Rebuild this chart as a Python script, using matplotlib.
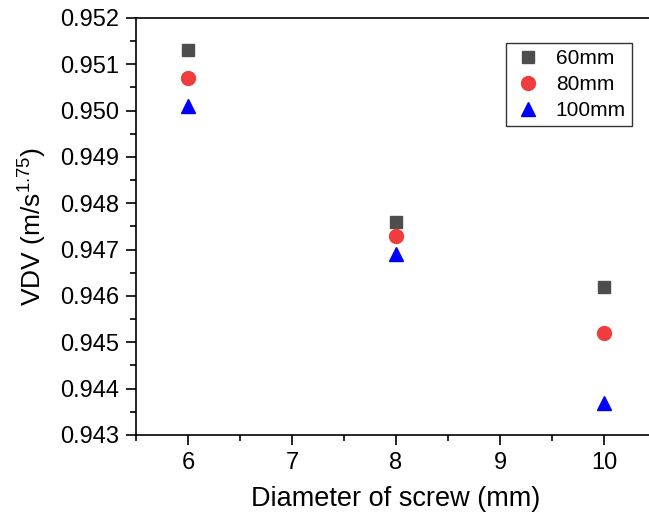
import numpy as np
import matplotlib.pyplot as plt
from matplotlib.ticker import MultipleLocator

plt.rcParams['font.family'] = ['Liberation Sans', 'DejaVu Sans']
plt.rcParams['mathtext.fontset'] = 'custom'
plt.rcParams['mathtext.rm'] = 'Liberation Sans'

# Data
diameter = [6, 8, 10]
vdv_60 = [0.9513, 0.9476, 0.9462]
vdv_80 = [0.9507, 0.9473, 0.9452]
vdv_100 = [0.9501, 0.9469, 0.9437]

fig = plt.figure(figsize=(6.49, 5.2), dpi=100)
ax = fig.add_axes([0.2096, 0.1635, 0.8012, 0.8019])

ax.plot(diameter, vdv_60, 's', color='#4d4d4d', markersize=9, label='60mm')
ax.plot(diameter, vdv_80, 'o', color='#f03c3c', markersize=10, label='80mm')
ax.plot(diameter, vdv_100, '^', color='#0000ff', markersize=10.5, label='100mm')

ax.set_xlim(5.5, 10.5)
ax.set_ylim(0.943, 0.952)
ax.xaxis.set_major_locator(MultipleLocator(1))
ax.xaxis.set_minor_locator(MultipleLocator(0.5))
ax.yaxis.set_major_locator(MultipleLocator(0.001))
ax.yaxis.set_minor_locator(MultipleLocator(0.0005))
ax.yaxis.set_major_formatter(plt.FormatStrFormatter('%.3f'))

ax.tick_params(which='major', direction='out', length=7, width=1.2, labelsize=17)
ax.tick_params(which='minor', direction='out', length=4, width=1.2)
ax.tick_params(axis='x', pad=5)
ax.tick_params(axis='y', pad=5)
for sp in ax.spines.values():
    sp.set_linewidth(1.2)
ax.spines['right'].set_visible(False)

ax.set_xlabel('Diameter of screw (mm)', fontsize=19.5, labelpad=9)
ax.set_ylabel('VDV (m/s$^{1.75}$)', fontsize=19, labelpad=9)

leg = ax.legend(loc='upper right', bbox_to_anchor=(0.954, 0.94), fontsize=15,
                frameon=True, fancybox=False, edgecolor='black',
                handletextpad=0.6, borderpad=0.3, labelspacing=0.33,
                handlelength=1.5, borderaxespad=0)
leg.get_frame().set_linewidth(1.0)

plt.savefig('out.png', dpi=100)
